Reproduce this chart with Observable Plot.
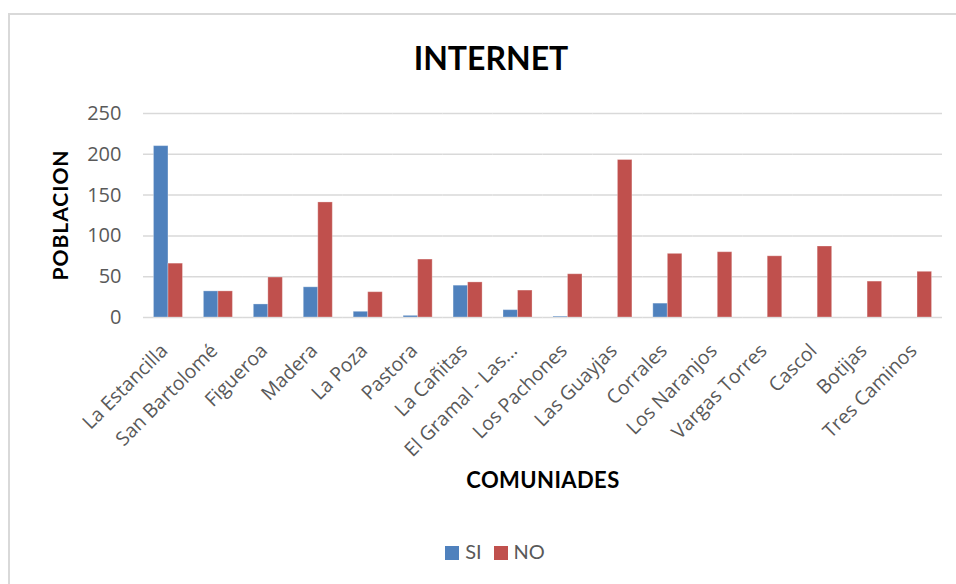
<!DOCTYPE html>
<html>
<head>
<meta charset="utf-8">
<script src="https://cdn.jsdelivr.net/npm/d3@7"></script>
<script src="https://cdn.jsdelivr.net/npm/@observablehq/plot@0.6"></script>
<style>
  body { margin: 0; background: #fff; }
  #wrap { position: relative; width: 956px; height: 584px; overflow: hidden; font-family: Lato, "Open Sans", sans-serif; }
  #frame { position: absolute; left: 8px; top: 13px; width: 960px; height: 600px; border-left: 2px solid #d9d9d9; border-top: 2px solid #d9d9d9; }
  #title { position: absolute; left: 0; width: 982px; top: 38px; text-align: center; font-weight: bold; font-size: 32px; line-height: 40px; color: #000; }
  #ylabel { position: absolute; left: -40px; top: 203px; width: 200px; height: 24px; line-height: 24px; text-align: center; font-weight: bold; font-size: 21px; letter-spacing: 1px; color: #000; transform: rotate(-90deg); transform-origin: 50% 50%; }
  #xlabel { position: absolute; left: 343px; width: 400px; top: 468px; line-height: 24px; text-align: center; font-weight: bold; font-size: 22px; letter-spacing: 0.4px; color: #000; }
  #legend { position: absolute; left: 0; width: 990px; top: 539px; text-align: center; font-size: 20px; line-height: 24px; color: #595959; }
  #legend span.sw { display: inline-block; width: 14px; height: 14px; vertical-align: -1px; margin-right: 6px; }
  #legend span.it { margin: 0 6px; }
  #chart { position: absolute; left: 0; top: 0; }
  #chart g[aria-label="y-axis tick label"] { font-size: 20px; }
</style>
</head>
<body>
<div id="wrap">
  <div id="frame"></div>
  <div id="chart"></div>
  <div id="title">INTERNET</div>
  <div id="ylabel">POBLACION</div>
  <div id="xlabel">COMUNIADES</div>
  <div id="legend"></div>
</div>
<script>
const comunidades = ["La Estancilla","San Bartolomé","Figueroa","Madera","La Poza","Pastora","La Cañitas","El Gramal - Las...","Los Pachones","Las Guayjas","Corrales","Los Naranjos","Vargas Torres","Cascol","Botijas","Tres Caminos"];
const si = [210, 32, 16, 37, 7, 2, 39, 9, 1, 0, 17, 0, 0, 0, 0, 0];
const no = [66, 32, 49, 141, 31, 71, 43, 33, 53, 193, 78, 80, 75, 87, 44, 56];
const series = ["SI", "NO"];
const colors = ["#4F81BD", "#C0504D"];
const yTicks = [0, 50, 100, 150, 200, 250];

const data = [];
comunidades.forEach((c, i) => {
  data.push({comunidad: c, serie: "SI", valor: si[i]});
  data.push({comunidad: c, serie: "NO", valor: no[i]});
});

const chart = Plot.plot({
  width: 956,
  height: 500,
  marginTop: 113,
  marginBottom: 183,
  marginLeft: 143,
  marginRight: 14,
  style: {fontFamily: "'Open Sans', sans-serif", fontSize: "19.5px", color: "#595959", background: "transparent", overflow: "visible"},
  fx: {domain: comunidades, padding: 0, round: false, axis: "bottom", tickRotate: -45, tickSize: 0, tickPadding: 30, label: null},
  x: {domain: series, paddingInner: 0, paddingOuter: 0.72, round: false, axis: null},
  y: {domain: [0, 250], ticks: yTicks, tickSize: 0, tickPadding: 22, label: null},
  color: {domain: series, range: colors},
  marks: [
    Plot.ruleY(yTicks, {stroke: "#d9d9d9", strokeWidth: 1.5}),
    Plot.barY(data, {fx: "comunidad", x: "serie", y: "valor", fill: "serie", stroke: "#ffffff", strokeOpacity: 0.3, strokeWidth: 1})
  ]
});
document.getElementById("chart").appendChild(chart);

// nudge category labels slightly left, as in the reference
chart.querySelectorAll('g[aria-label="fx-axis tick label"]').forEach(g => {
  g.setAttribute("transform", (g.getAttribute("transform") || "") + " translate(-4,0)");
});

const legend = document.getElementById("legend");
series.forEach((s, i) => {
  const it = document.createElement("span");
  it.className = "it";
  const sw = document.createElement("span");
  sw.className = "sw";
  sw.style.background = colors[i];
  it.appendChild(sw);
  it.appendChild(document.createTextNode(s));
  legend.appendChild(it);
});
</script>
</body>
</html>
